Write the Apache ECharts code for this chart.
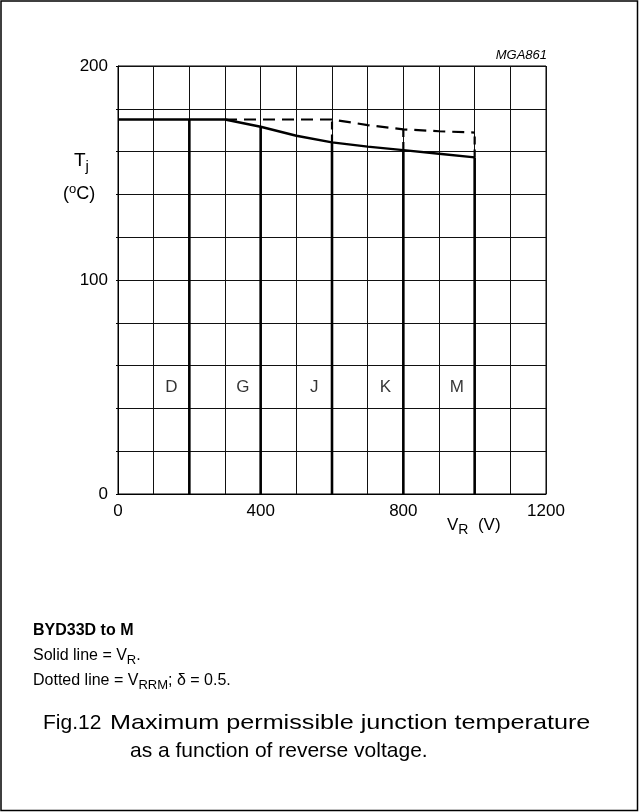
<!DOCTYPE html>
<html><head><meta charset="utf-8">
<script src="https://cdn.jsdelivr.net/npm/echarts@6/dist/echarts.min.js"></script>
<style>html,body{margin:0;padding:0;background:#fff}#c{width:639px;height:812px}</style>
</head><body><div id="c"></div>
<script>
// ---- data ----
const solidV = [0, 300, 400, 500, 600, 700, 800, 900, 1000];
const solidT = [175, 175, 171.6, 167.4, 164.3, 162.3, 160.7, 159.0, 157.3];
const dashV = [300, 600, 700, 800, 900, 1000];
const dashT = [175, 175, 172.4, 170.4, 169.5, 168.9];
const classV = [200, 400, 600, 800, 1000];
const classSolidTop = [175, 171.6, 164.3, 160.7, 157.3];
const classDashTop = [null, null, 175, 170.4, 168.9];
const classNames = ['D', 'G', 'J', 'K', 'M'];
const classLabelV = [150, 350, 550, 750, 950];
const classLabelT = [50, 50, 50, 50, 50];
const xTickLabels = [0, 400, 800, 1200];
const yTickLabels = [0, 100, 200];

const FONT = 'Liberation Sans, Arial, sans-serif';
const chart = echarts.init(document.getElementById('c'), null, {renderer: 'canvas'});

const series = [];
series.push({
  type: 'line', data: solidV.map((v, i) => [v, solidT[i]]), showSymbol: false,
  smooth: false,
  lineStyle: {color: '#000', width: 2.4, join: 'round'}, z: 5, silent: true
});
series.push({
  type: 'line', data: dashV.map((v, i) => [v, dashT[i]]), showSymbol: false,
  smooth: false,
  lineStyle: {color: '#000', width: 2.2, type: [12, 7]}, z: 5, silent: true
});
classV.forEach((v, i) => {
  series.push({
    type: 'line', data: [[v, 0], [v, classSolidTop[i]]], showSymbol: false,
    lineStyle: {color: '#000', width: 2.6}, z: 4, silent: true
  });
  if (classDashTop[i] != null) {
    series.push({
      type: 'line', data: [[v, classSolidTop[i]], [v, classDashTop[i]]], showSymbol: false,
      lineStyle: {color: '#000', width: 2.2, type: [8, 5]}, z: 4, silent: true
    });
  }
});
series.push({
  type: 'scatter', symbolSize: 0, silent: true,
  data: classLabelV.map((v, i) => ({value: [v, classLabelT[i]], name: classNames[i]})),
  label: {show: true, position: 'inside', formatter: p => p.name,
          color: '#000', fontFamily: FONT, fontSize: 17}
});

chart.setOption({
  backgroundColor: '#fff',
  animation: false,
  grid: {left: 118, top: 66, width: 428, height: 428, show: true, borderColor: '#000', borderWidth: 1, containLabel: false},
  xAxis: {
    type: 'value', min: 0, max: 1200, interval: 100,
    axisLine: {show: true, lineStyle: {color: '#000', width: 1}},
    axisTick: {show: false},
    axisLabel: {
      color: '#000', fontFamily: FONT, fontSize: 17, margin: 9,
      formatter: v => xTickLabels.indexOf(v) >= 0 ? String(v) : ''
    },
    splitLine: {show: true, lineStyle: {color: '#111', width: 1}}
  },
  yAxis: {
    type: 'value', min: 0, max: 200, interval: 20,
    axisLine: {show: true, lineStyle: {color: '#000', width: 1}},
    axisTick: {show: true, length: 2, inside: false, lineStyle: {color: '#000'}},
    axisLabel: {
      color: '#000', fontFamily: FONT, fontSize: 17, margin: 10,
      formatter: v => yTickLabels.indexOf(v) >= 0 ? String(v) : ''
    },
    splitLine: {show: true, lineStyle: {color: '#111', width: 1}}
  },
  graphic: [
    {type: 'rect', shape: {x: 1, y: 1, width: 636.5, height: 809.5}, style: {fill: null, stroke: '#000', lineWidth: 1.5}, silent: true},
    {type: 'text', x: 547, y: 55, style: {text: 'MGA861', fontFamily: FONT, fontStyle: 'italic', fontSize: 13, fill: '#000', align: 'right', verticalAlign: 'middle'}},
    {type: 'text', x: 74, y: 161, style: {
      text: '{a|T}{s|j}', fontFamily: FONT, verticalAlign: 'middle',
      rich: {a: {fontSize: 19, fontFamily: FONT, fill: '#000'}, s: {fontSize: 15, fontFamily: FONT, fill: '#000', padding: [12, 0, 0, 0]}}
    }},
    {type: 'text', x: 63, y: 194, style: {
      text: '{a|(}{s|o}{a|C)}', fontFamily: FONT, verticalAlign: 'middle',
      rich: {a: {fontSize: 18, fontFamily: FONT, fill: '#000'}, s: {fontSize: 13, fontFamily: FONT, fill: '#000', padding: [0, 0, 10, 0]}}
    }},
    {type: 'text', x: 447, y: 525, style: {
      text: '{a|V}{s|R}{a|  (V)}', fontFamily: FONT, verticalAlign: 'middle',
      rich: {a: {fontSize: 17, fontFamily: FONT, fill: '#000'}, s: {fontSize: 14, fontFamily: FONT, fill: '#000', padding: [10, 0, 0, 0]}}
    }},
    {type: 'text', x: 33, y: 631, style: {text: 'BYD33D to M', fontFamily: FONT, fontWeight: 'bold', fontSize: 16, fill: '#000', verticalAlign: 'middle'}},
    {type: 'text', x: 33, y: 656, style: {
      text: '{a|Solid line = V}{s|R}{a|.}', verticalAlign: 'middle',
      rich: {a: {fontSize: 16, fontFamily: FONT, fill: '#000'}, s: {fontSize: 13, fontFamily: FONT, fill: '#000', padding: [8, 0, 0, 0]}}
    }},
    {type: 'text', x: 33, y: 681, style: {
      text: '{a|Dotted line = V}{s|RRM}{a|; δ = 0.5.}', verticalAlign: 'middle',
      rich: {a: {fontSize: 16, fontFamily: FONT, fill: '#000'}, s: {fontSize: 13, fontFamily: FONT, fill: '#000', padding: [8, 0, 0, 0]}}
    }},
    {type: 'text', x: 43, y: 723, style: {text: 'Fig.12', fontFamily: FONT, fontSize: 21, fill: '#000', verticalAlign: 'middle'}},
    {type: 'text', x: 110, y: 723, scaleX: 1.2, style: {text: 'Maximum permissible junction temperature', fontFamily: FONT, fontSize: 21, fill: '#000', verticalAlign: 'middle'}},
    {type: 'text', x: 130, y: 751, style: {text: 'as a function of reverse voltage.', fontFamily: FONT, fontSize: 21, fill: '#000', verticalAlign: 'middle'}}
  ],
  series: series
});
</script></body></html>
